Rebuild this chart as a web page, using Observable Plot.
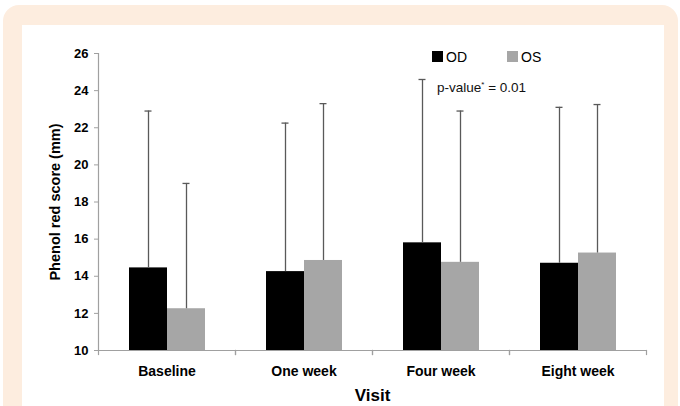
<!DOCTYPE html>
<html><head><meta charset="utf-8">
<script src="https://cdn.jsdelivr.net/npm/d3@7"></script>
<script src="https://cdn.jsdelivr.net/npm/@observablehq/plot@0.6"></script>
<style>
body{margin:0;background:#fff;font-family:"Liberation Sans",Arial,sans-serif;}
#wrap{position:relative;width:680px;height:406px;overflow:hidden;}
#frame{position:absolute;left:3px;top:5px;width:675px;height:440px;background:#fdeddf;border-radius:16px;}
#inner{position:absolute;left:22px;top:25px;width:642px;height:420px;background:#fff;}
#chart{position:absolute;left:0;top:0;}
#chart svg text{font-weight:bold;}
.leg{position:absolute;font-size:14px;color:#000;line-height:14px;white-space:nowrap;}
.sw{position:absolute;width:11px;height:11px;}
</style></head><body>
<div id="wrap">
  <div id="frame"></div><div id="inner"></div><div id="chart"></div>
  <div class="sw" style="left:432px;top:51px;background:#000"></div>
  <div class="leg" style="left:446px;top:50px">OD</div>
  <div class="sw" style="left:507px;top:51px;background:#a6a6a6"></div>
  <div class="leg" style="left:521px;top:50px">OS</div>
  <div class="leg" style="left:437px;top:78px;font-size:13.5px;color:#111">p-value<sup style="font-size:8px;vertical-align:5px">*</sup> = 0.01</div>
</div>
<script>
const visits = ["Baseline", "One week", "Four week", "Eight week"];
const eyes = ["OD", "OS"];
const odMean = [14.45, 14.25, 15.8, 14.7];
const odSD = [8.45, 8.0, 8.8, 8.4];
const osMean = [12.25, 14.85, 14.75, 15.25];
const osSD = [6.75, 8.45, 8.15, 8.0];
const yTicks = [10, 12, 14, 16, 18, 20, 22, 24, 26];
const eyeColors = ["#000000", "#a6a6a6"];

const rows = visits.flatMap((v, i) => [
  {visit: v, eye: "OD", mean: odMean[i], sd: odSD[i]},
  {visit: v, eye: "OS", mean: osMean[i], sd: osSD[i]}
]).map(d => ({...d, top: d.mean + d.sd}));

const axisGrey = "#a0a0a0";
const errGrey = "#595959";

const chart = Plot.plot({
  width: 680, height: 406,
  marginLeft: 97, marginRight: 34, marginTop: 53, marginBottom: 56,
  style: {background: "transparent", fontFamily: "'Liberation Sans', Arial, sans-serif", color: "#000", overflow: "visible"},
  fx: {domain: visits, padding: 0, label: null},
  x: {domain: eyes, paddingInner: 0, paddingOuter: 0.786, axis: null},
  y: {domain: [10, 26]},
  color: {domain: eyes, range: eyeColors},
  marks: [
    Plot.barY(rows, {fx: "visit", x: "eye", y1: 10, y2: "mean", fill: "eye"}),
    Plot.ruleX(rows, {fx: "visit", x: "eye", y1: "mean", y2: "top", stroke: errGrey, strokeWidth: 1.3}),
    Plot.tickY(rows, {fx: "visit", x: "eye", y: "top", stroke: errGrey, strokeWidth: 1.3, insetLeft: 15.5, insetRight: 15.5}),
    Plot.ruleY([10], {stroke: axisGrey, strokeWidth: 1.2}),
    Plot.frame({anchor: "left", stroke: axisGrey, strokeWidth: 1.2, insetTop: 297, insetBottom: -4}),
    Plot.frame({anchor: "right", stroke: axisGrey, strokeWidth: 1.2, insetTop: 297, insetBottom: -4}),
    Plot.frame({anchor: "left", facetAnchor: "left", stroke: axisGrey, strokeWidth: 1.2}),
    Plot.axisY({ticks: yTicks, tickSize: 4, tickPadding: 6, fontSize: 13, stroke: axisGrey,
      label: "Phenol red score (mm)", labelAnchor: "center", labelArrow: "none", labelOffset: 49}),
    Plot.axisFx({anchor: "bottom", tickSize: 0, tickPadding: 16, fontSize: 14,
      label: "Visit", labelAnchor: "center", labelArrow: "none", labelOffset: 50})
  ]
});
document.getElementById("chart").appendChild(chart);
d3.select(chart).selectAll('g[aria-label="y-axis label"] text').style("font-size", "14.5px");
d3.select(chart).selectAll('g[aria-label="fx-axis label"] text').style("font-size", "17px");
</script>
</body></html>
